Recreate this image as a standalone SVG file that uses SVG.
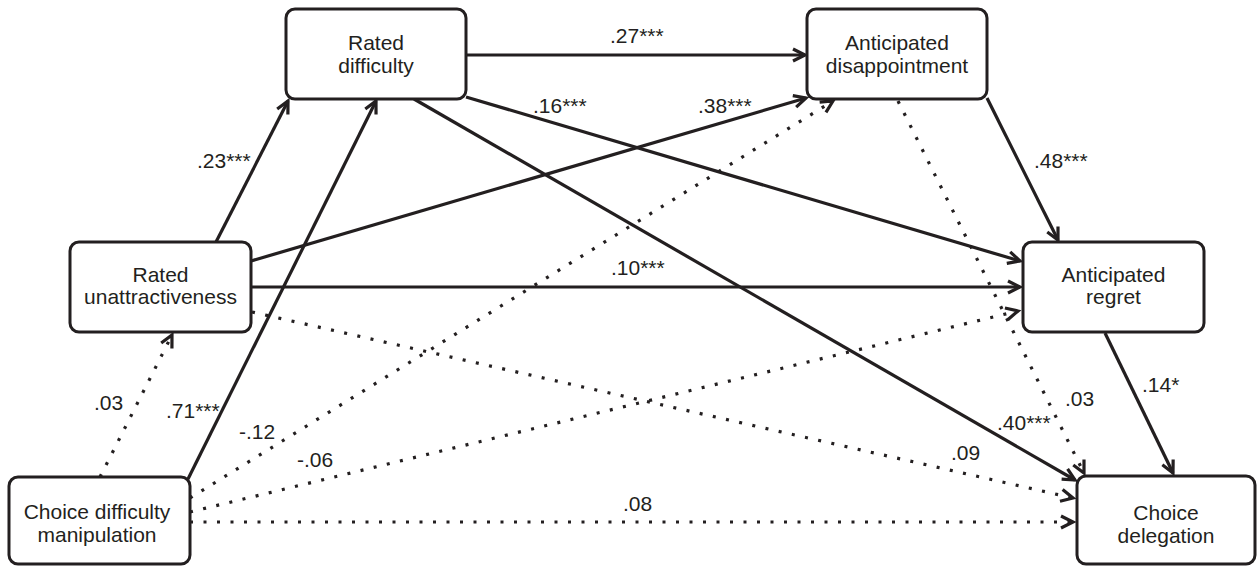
<svg xmlns="http://www.w3.org/2000/svg" width="1257" height="566" viewBox="0 0 1257 566">
<defs>
<style>
.box{fill:#fff;stroke:#231f20;stroke-width:3}
.nt{font-family:"Liberation Sans",Arial,sans-serif;font-size:21px;fill:#231f20;text-anchor:middle}
.lb{font-family:"Liberation Sans",Arial,sans-serif;font-size:21px;fill:#231f20}
.s{fill:none;stroke:#231f20;stroke-width:3.2;marker-end:url(#ah)}
.d{fill:none;stroke:#231f20;stroke-width:3.2;stroke-dasharray:3 10.5;marker-end:url(#ah)}
</style>
<marker id="ah" markerUnits="userSpaceOnUse" viewBox="-14 -8 16 16" refX="0" refY="0" markerWidth="16" markerHeight="16" orient="auto" overflow="visible">
<path d="M-12,-6 L0,0 L-12,6" fill="none" stroke="#231f20" stroke-width="3.2" stroke-dasharray="none" stroke-linejoin="miter"/>
</marker>
</defs>
<rect width="1257" height="566" fill="#fff"/>
<g id="connectors">
<path class="s" d="M216,242 L288,101"/>
<path class="s" d="M188,479 L376,101"/>
<path class="s" d="M467,55 L805,55"/>
<path class="s" d="M251,261 L806,98"/>
<path class="s" d="M466,97 L1020,261"/>
<path class="s" d="M414,99 L1075,480"/>
<path class="s" d="M987,98 L1058,240"/>
<path class="s" d="M251,287 L1020,287"/>
<path class="s" d="M1105,333 L1173,473"/>
<path class="d" d="M898,101 L1084,473"/>
<path class="d" d="M252,312 L1073,498"/>
<path class="d" d="M100,477 L172,335"/>
<path class="d" d="M190,498 L833,101"/>
<path class="d" d="M190,512 L1018,311"/>
<path class="d" d="M190,522 L1073,522"/>
</g>
<g id="n-rated-difficulty">
<rect class="box" x="286" y="9" width="180" height="90" rx="9"/>
<text class="nt" x="376" y="50">Rated</text>
<text class="nt" x="376" y="73">difficulty</text>
</g>
<g id="n-anticipated-disappointment">
<rect class="box" x="807" y="9" width="180" height="90" rx="9"/>
<text class="nt" x="897" y="50">Anticipated</text>
<text class="nt" x="897" y="73">disappointment</text>
</g>
<g id="n-rated-unattractiveness">
<rect class="box" x="70" y="242" width="181" height="90" rx="9"/>
<text class="nt" x="160.5" y="282">Rated</text>
<text class="nt" x="160.5" y="304">unattractiveness</text>
</g>
<g id="n-anticipated-regret">
<rect class="box" x="1023" y="242" width="181" height="90" rx="9"/>
<text class="nt" x="1113.5" y="282">Anticipated</text>
<text class="nt" x="1113.5" y="304">regret</text>
</g>
<g id="n-choice-difficulty-manipulation">
<rect class="box" x="9" y="477" width="181" height="87" rx="9"/>
<text class="nt" x="97" y="519">Choice difficulty</text>
<text class="nt" x="97" y="542">manipulation</text>
</g>
<g id="n-choice-delegation">
<rect class="box" x="1077" y="476" width="178" height="88" rx="9"/>
<text class="nt" x="1166" y="520">Choice</text>
<text class="nt" x="1166" y="543">delegation</text>
</g>
<g id="labels">
<text class="lb" x="610" y="43">.27***</text>
<text class="lb" x="533" y="113">.16***</text>
<text class="lb" x="698" y="113">.38***</text>
<text class="lb" x="197" y="168">.23***</text>
<text class="lb" x="1034" y="168">.48***</text>
<text class="lb" x="611" y="275">.10***</text>
<text class="lb" x="94" y="410">.03</text>
<text class="lb" x="166" y="418">.71***</text>
<text class="lb" x="239" y="439">-.12</text>
<text class="lb" x="297" y="467">-.06</text>
<text class="lb" x="623" y="511">.08</text>
<text class="lb" x="951" y="460">.09</text>
<text class="lb" x="997" y="430">.40***</text>
<text class="lb" x="1065" y="406">.03</text>
<text class="lb" x="1142" y="392">.14*</text>
</g>
</svg>
